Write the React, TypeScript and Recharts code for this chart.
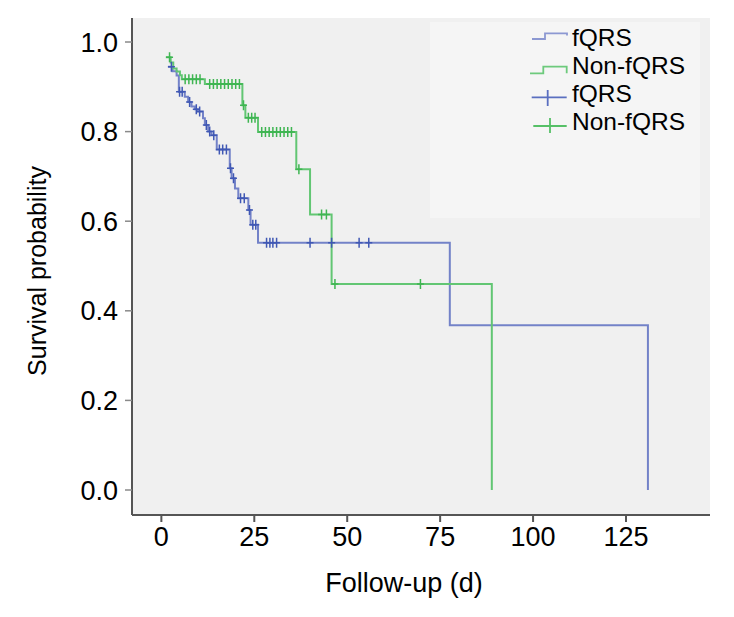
import React from 'react';
import { ComposedChart, Line, Scatter, XAxis, YAxis, CartesianGrid, Legend, Label } from 'recharts';

// Kaplan–Meier steps: time (days) and survival probability after each step
const fqrsTimes = [1.8, 3.0, 4.1, 4.7, 6.3, 7.2, 8.1, 9.0, 9.8, 11.2, 11.7, 12.6, 13.5, 14.9, 18.4, 18.9, 19.8, 20.7, 23.4, 24.0, 26.0, 77.6, 130.9];
const fqrsSurv = [0.945, 0.935, 0.925, 0.889, 0.878, 0.866, 0.856, 0.85, 0.845, 0.83, 0.815, 0.8, 0.792, 0.76, 0.718, 0.696, 0.673, 0.651, 0.625, 0.592, 0.552, 0.368, 0];
const fqrsCensorTimes = [2.7, 4.9, 5.6, 7.6, 9.4, 10.3, 12.1, 13.0, 14.1, 15.6, 16.5, 17.5, 18.6, 19.4, 21.3, 22.3, 23.7, 24.6, 25.4, 28.3, 29.2, 30.0, 31.0, 40.0, 45.8, 53.2, 55.8];

const nonTimes = [1.2, 2.5, 3.2, 4.1, 5.0, 5.5, 11.7, 21.8, 22.6, 26.0, 36.3, 40.0, 45.8, 88.9];
const nonSurv = [0.966, 0.954, 0.941, 0.934, 0.926, 0.917, 0.906, 0.859, 0.831, 0.799, 0.716, 0.615, 0.46, 0];
const nonCensorTimes = [2.2, 6.4, 7.4, 8.4, 9.4, 10.4, 13.0, 14.0, 15.0, 16.0, 17.0, 18.0, 19.0, 20.0, 21.0, 22.1, 23.4, 24.3, 25.2, 27.0, 28.0, 29.0, 30.0, 31.0, 32.0, 33.0, 34.0, 35.0, 37.0, 43.1, 44.4, 46.7, 69.7];

const xTicks = [0, 25, 50, 75, 100, 125];
const yTicks = [0, 0.2, 0.4, 0.6, 0.8, 1.0];
const legendLabels = ['fQRS', 'Non-fQRS', 'fQRS', 'Non-fQRS'];
const xTitle = 'Follow-up (d)';
const yTitle = 'Survival probability';

const X_DOMAIN: [number, number] = [-7.9, 147.6];
const Y_DOMAIN: [number, number] = [-0.0558, 1.0536];
const FONT = '"Liberation Sans", Arial, Helvetica, sans-serif';
const TICK_FONT_SIZE = 27;

const BLUE_LINE = '#7382c8';
const BLUE_MARK = '#4058b4';
const GREEN_LINE = '#62c673';
const GREEN_MARK = '#3fb552';

const toSteps = (times: number[], surv: number[]) => times.map((t, i) => ({ t, s: surv[i] }));
const survAt = (times: number[], surv: number[], t: number) => {
  let v = 1;
  for (let i = 0; i < times.length; i++) if (times[i] <= t) v = surv[i];
  return v;
};
const toCensor = (ct: number[], times: number[], surv: number[]) => ct.map((t) => ({ t, s: survAt(times, surv, t) }));

const fqrsSteps = toSteps(fqrsTimes, fqrsSurv);
const nonSteps = toSteps(nonTimes, nonSurv);
const fqrsCensor = toCensor(fqrsCensorTimes, fqrsTimes, fqrsSurv);
const nonCensor = toCensor(nonCensorTimes, nonTimes, nonSurv);

const makeCross = (color: string) => (props: any) => {
  const { cx, cy } = props;
  if (cx == null || cy == null) return <g />;
  return (
    <path
      d={`M${cx},${cy - 5}V${cy + 5}M${cx - 3.5},${cy}H${cx + 3.5}`}
      stroke={color}
      strokeWidth={1.5}
      fill="none"
    />
  );
};

const XTick = (props: any) => {
  const { x, y, payload } = props;
  return (
    <text x={x} y={y + 19} textAnchor="middle" fontSize={TICK_FONT_SIZE} fontFamily={FONT} fill="#000">
      {payload.value}
    </text>
  );
};

const YTick = (props: any) => {
  const { x, y, payload } = props;
  return (
    <text x={x} y={y + 9.5} textAnchor="end" fontSize={TICK_FONT_SIZE} fontFamily={FONT} fill="#000">
      {Number(payload.value).toFixed(1)}
    </text>
  );
};

const LegendBox = () => {
  const textX = 142;
  const rows = [15, 43, 70.7, 99];
  return (
    <div style={{ width: 270, height: 196, background: '#f5f5f5' }}>
      <svg width={270} height={196} style={{ display: 'block' }}>
        <path d="M102,17 H115 V11.3 H137 V13.5" stroke="#8c98d2" strokeWidth={1.8} fill="none" />
        <path d="M100,51.3 H113.3 V44.7 H136.7 V51.3" stroke="#6dca7c" strokeWidth={1.8} fill="none" />
        <path d="M101.7,75.3 H136.7 M117.7,68 V84" stroke="#5a6fc0" strokeWidth={1.8} fill="none" />
        <path d="M103.3,104 H136.7 M120,96 V111" stroke="#56c067" strokeWidth={1.8} fill="none" />
        {legendLabels.map((lab, i) => (
          <text key={i} x={textX} y={rows[i] + 8.8} fontSize={24.5} fontFamily={FONT} fill="#000">
            {lab}
          </text>
        ))}
      </svg>
    </div>
  );
};

const XTitle = (props: any) => {
  const vb = props.viewBox || { x: 124, y: 507, width: 578, height: 94 };
  return (
    <text x={vb.x + vb.width / 2 - 17} y={vb.y + 77} textAnchor="middle" fontSize={27} fontFamily={FONT} fill="#000">
      {xTitle}
    </text>
  );
};

const YTitle = (props: any) => {
  const vb = props.viewBox || { x: 0, y: 10, width: 124, height: 497 };
  const x = 37.5;
  const y = vb.y + vb.height / 2 + 4.5;
  return (
    <text x={x} y={y} transform={`rotate(-90 ${x} ${y})`} textAnchor="middle" fontSize={25} fontFamily={FONT} fill="#000">
      {yTitle}
    </text>
  );
};

export default function App() {
  return (
    <div style={{ width: 726, height: 601 }}>
      <ComposedChart width={726} height={601} margin={{ top: 10, right: 24, left: 0, bottom: 0 }}>
        <CartesianGrid fill="#f0f0f0" horizontal={false} vertical={false} />
        <XAxis
          type="number"
          dataKey="t"
          domain={X_DOMAIN}
          ticks={xTicks}
          interval={0}
          allowDataOverflow
          height={94}
          tickSize={7}
          tickMargin={5}
          tick={<XTick />}
          axisLine={{ stroke: '#555', strokeWidth: 2 }}
          tickLine={{ stroke: '#555', strokeWidth: 2 }}
        >
          <Label content={XTitle} />
        </XAxis>
        <YAxis
          type="number"
          dataKey="s"
          domain={Y_DOMAIN}
          ticks={yTicks}
          interval={0}
          allowDataOverflow
          width={124}
          tickSize={7}
          tickMargin={7}
          tick={<YTick />}
          axisLine={{ stroke: '#555', strokeWidth: 2 }}
          tickLine={{ stroke: '#8a8a8a', strokeWidth: 1.5 }}
        >
          <Label content={YTitle} />
        </YAxis>
        <YAxis
          yAxisId="right"
          orientation="right"
          type="number"
          domain={Y_DOMAIN}
          width={0}
          tick={false}
          tickLine={false}
          axisLine={{ stroke: '#555', strokeWidth: 2 }}
        />
        <Legend
          layout="vertical"
          align="center"
          verticalAlign="middle"
          content={<LegendBox />}
          wrapperStyle={{ left: 422, top: 14, width: 270, height: 196 }}
        />
        <Line data={fqrsSteps} dataKey="s" type="stepAfter" stroke={BLUE_LINE} strokeWidth={2} dot={false} isAnimationActive={false} />
        <Line data={nonSteps} dataKey="s" type="stepAfter" stroke={GREEN_LINE} strokeWidth={2} dot={false} isAnimationActive={false} />
        <Scatter data={fqrsCensor} dataKey="s" shape={makeCross(BLUE_MARK)} isAnimationActive={false} />
        <Scatter data={nonCensor} dataKey="s" shape={makeCross(GREEN_MARK)} isAnimationActive={false} />
      </ComposedChart>
    </div>
  );
}
